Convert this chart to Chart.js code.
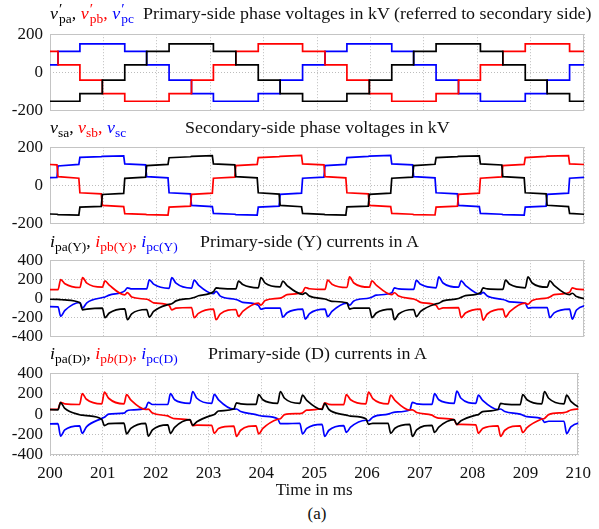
<!DOCTYPE html>
<html lang="en">
<head>
<meta charset="UTF-8" />
<title>Phase voltages and currents</title>
<script src="https://cdn.jsdelivr.net/npm/chart.js"></script>
<style>
  body {
    margin: 0;
    width: 599px;
    height: 529px;
    position: relative;
    overflow: hidden;
    background: #fff;
    font-family: "Liberation Serif", "Times New Roman", serif;
    color: #111;
  }
  canvas { position: absolute; left: 0; }
  .ttl {
    position: absolute;
    font-size: 16px;
    line-height: 16px;
    white-space: nowrap;
    transform: scaleX(1.12);
    transform-origin: left top;
  }
  .ttl sub { font-size: 12px; line-height: 1; vertical-align: -4px; }
  .ss { position: relative; display: inline-block; font-size: 12px; line-height: 12px; vertical-align: -4px; padding-left: 1px; }
  .ss .p { position: absolute; left: 1px; top: -9px; font-size: 14px; }
  .k { color: #000; }
  .r { color: #f00; }
  .b { color: #00f; }
  .cap { position: absolute; left: 267px; width: 100px; top: 506px; text-align: center; font-size: 17px; line-height: 16px; }
</style>
</head>
<body>

<canvas id="c1" width="599" height="111" style="top:17px"></canvas>
<canvas id="c2" width="599" height="111" style="top:130px"></canvas>
<canvas id="c3" width="599" height="111" style="top:243px"></canvas>
<canvas id="c4" width="599" height="145" style="top:356px"></canvas>

<!-- panel headings -->
<div class="ttl" style="left:50px;top:6px">
  <span class="k"><i>v</i><span class="ss"><span class="p">′</span>pa</span>,</span>
  <span class="r"><i>v</i><span class="ss"><span class="p">′</span>pb</span>,</span>
  <span class="b"><i>v</i><span class="ss"><span class="p">′</span>pc</span></span>
</div>
<div class="ttl" style="left:143px;top:6px">Primary-side phase voltages in kV (referred to secondary side)</div>

<div class="ttl" style="left:50px;top:120px">
  <span class="k"><i>v</i><sub>sa</sub>,</span>
  <span class="r"><i>v</i><sub>sb</sub>,</span>
  <span class="b"><i>v</i><sub>sc</sub></span>
</div>
<div class="ttl" style="left:185px;top:120px">Secondary-side phase voltages in kV</div>

<div class="ttl" style="left:50px;top:234px">
  <span class="k"><i>i</i><sub>pa(Y)</sub>,</span>
  <span class="r"><i>i</i><sub>pb(Y)</sub>,</span>
  <span class="b"><i>i</i><sub>pc(Y)</sub></span>
</div>
<div class="ttl" style="left:200px;top:234px">Primary-side (Y) currents in A</div>

<div class="ttl" style="left:50px;top:346px">
  <span class="k"><i>i</i><sub>pa(D)</sub>,</span>
  <span class="r"><i>i</i><sub>p<i>b</i>(D)</sub>,</span>
  <span class="b"><i>i</i><sub>pc(D)</sub></span>
</div>
<div class="ttl" style="left:208px;top:346px">Primary-side (D) currents in A</div>

<div class="cap">(a)</div>

<script>
  // switching instants (ms) of the 12-step waveforms, last entry closes the final step
  const stepTimes = [199.73, 200.15, 200.56, 200.98, 201.40, 201.81, 202.23, 202.65, 203.06,
    203.48, 203.90, 204.31, 204.73, 205.15, 205.56, 205.98, 206.40, 206.81, 207.23,
    207.65, 208.06, 208.48, 208.90, 209.31, 209.73, 210.15];

  // primary-side phase voltages (kV), one level per step
  const vpa = [-150, -150, -110, -40, 40, 110, 150, 150, 110, 40, -40, -110, -150, -150,
    -110, -40, 40, 110, 150, 150, 110, 40, -40, -110, -150, -150];
  const vpb = [110, 40, -40, -110, -150, -150, -110, -40, 40, 110, 150, 150, 110, 40,
    -40, -110, -150, -150, -110, -40, 40, 110, 150, 150, 110, 110];
  const vpc = [40, 110, 150, 150, 110, 40, -40, -110, -150, -150, -110, -40, 40, 110,
    150, 150, 110, 40, -40, -110, -150, -150, -110, -40, 40, 40];

  // secondary-side voltages: start and end of every step
  const secTimes = [199.73, 200.13, 200.15, 200.54, 200.56, 200.96, 200.98, 201.38,
    201.40, 201.79, 201.81, 202.21, 202.23, 202.63, 202.65, 203.04, 203.06, 203.46,
    203.48, 203.88, 203.90, 204.29, 204.31, 204.71, 204.73, 205.13, 205.15, 205.54,
    205.56, 205.96, 205.98, 206.38, 206.40, 206.79, 206.81, 207.21, 207.23, 207.63,
    207.65, 208.04, 208.06, 208.46, 208.48, 208.88, 208.90, 209.29, 209.31, 209.71,
    209.73, 210.13];
  const vsa = [-146, -150, -152, -155, -113, -109, -47, -41, 37, 44, 104, 110, 145, 150,
    152, 156, 113, 108, 46, 40, -38, -45, -104, -111, -146, -151, -152, -155, -112, -108,
    -46, -40, 38, 44, 104, 111, 146, 151, 152, 155, 113, 107, 46, 40, -38, -44, -103, -110,
    -146, -152];
  const vsb = [113, 108, 46, 38, -38, -44, -104, -110, -147, -151, -152, -155, -113, -108,
    -46, -40, 38, 44, 104, 110, 146, 151, 152, 157, 113, 108, 46, 40, -38, -44, -104, -110,
    -146, -150, -152, -154, -113, -108, -46, -40, 38, 45, 104, 110, 146, 152, 153, 156,
    113, 108];
  const vsc = [38, 42, 102, 110, 147, 151, 152, 155, 113, 108, 46, 40, -38, -44, -104, -110,
    -146, -150, -152, -155, -113, -108, -46, -40, 38, 44, 104, 110, 146, 152, 153, 157,
    113, 108, 46, 40, -38, -44, -104, -110, -146, -150, -152, -155, -113, -108, -46, -40,
    38, 44];

  // current samples: each step is read at switching, peak and mid-decay
  const iTimes = [199.73, 199.78, 199.86, 200.15, 200.20, 200.28, 200.56, 200.61, 200.69,
    200.98, 201.03, 201.11, 201.40, 201.45, 201.53, 201.81, 201.86, 201.94,
    202.23, 202.28, 202.36, 202.65, 202.70, 202.78, 203.06, 203.11, 203.19,
    203.48, 203.53, 203.61, 203.90, 203.95, 204.03, 204.31, 204.36, 204.44,
    204.73, 204.78, 204.86, 205.15, 205.20, 205.28, 205.56, 205.61, 205.69,
    205.98, 206.03, 206.11, 206.40, 206.45, 206.53, 206.81, 206.86, 206.94,
    207.23, 207.28, 207.36, 207.65, 207.70, 207.78, 208.06, 208.11, 208.19,
    208.48, 208.53, 208.61, 208.90, 208.95, 209.03, 209.31, 209.36, 209.44,
    209.73, 209.78, 209.86, 210.15];

  // Y-winding primary currents (A)
  const iaY = [40, 55, 0, -10, -12, -15, -45, -118, -110, -100, -201, -152,
    -109, -222, -160, -115, -195, -135, -60, -55, -25, 3, 10, 29,
    70, 112, 106, 100, 182, 145, 111, 219, 160, 121, 182, 135,
    44, 58, 25, -5, -15, -30, -46, -110, -100, -100, -200, -152,
    -112, -222, -162, -115, -190, -135, -55, -50, -25, 0, 12, 30,
    60, 110, 100, 95, 191, 148, 112, 225, 162, 118, 185, 138,
    40, 55, 20, -12];
  const ibY = [68, 110, 100, 92, 198, 155, 115, 219, 160, 118, 184, 140,
    38, 62, 15, -8, -18, -45, -72, -118, -100, -94, -201, -155,
    -112, -222, -160, -115, -186, -135, -48, -70, -20, 4, 15, 40,
    66, 115, 102, 95, 191, 150, 115, 225, 162, 118, 185, 140,
    40, 60, 25, -5, -15, -40, -70, -110, -98, -95, -200, -152,
    -110, -225, -162, -112, -194, -138, -48, -60, -20, 5, 15, 40,
    66, 110, 98, 90];
  const icY = [-110, -200, -85, -87, -186, -125, -42, -100, -45, 10, 16, 35,
    80, 112, 100, 100, 195, 150, 106, 219, 160, 108, 192, 140,
    50, 75, 25, -10, -20, -40, -70, -112, -100, -100, -195, -148,
    -110, -215, -158, -112, -190, -135, -48, -70, -25, 5, 15, 35,
    60, 110, 100, 95, 190, 148, 112, 225, 162, 118, 185, 138,
    45, 65, 25, -10, -18, -35, -50, -100, -95, -95, -200, -150,
    -110, -215, -120, -60];

  // delta-winding primary currents (A)
  const iaD = [100, 185, 50, 42, 112, 55, -6, -10, -15, -52, -112, -94,
    -88, -194, -140, -90, -215, -155, -106, -188, -130, -55, -110, -75,
    -12, -5, 30, 50, 109, 100, 95, 190, 140, 105, 221, 155,
    105, 185, 135, 45, 105, 45, -5, -10, -20, -45, -100, -90,
    -90, -188, -138, -100, -218, -155, -110, -180, -128, -55, -100, -65,
    -10, -5, 25, 45, 105, 98, 92, 191, 140, 100, 221, 155,
    100, 185, 125, 30];
  const ibD = [20, 30, 45, 48, 115, 100, 94, 200, 145, 100, 215, 155,
    100, 190, 138, 45, 48, 10, -18, -30, -45, -58, -112, -108,
    -110, -188, -140, -118, -218, -158, -115, -194, -140, -50, -45, -5,
    5, 10, 39, 55, 110, 95, 92, 191, 140, 100, 215, 152,
    100, 185, 135, 40, 42, 15, -10, -25, -40, -55, -103, -100,
    -105, -188, -140, -115, -218, -158, -115, -180, -132, -48, -42, -5,
    15, 20, 40, 55];
  const icD = [-100, -190, -100, -94, -215, -155, -115, -188, -125, -42, -30, 0,
    9, 30, 40, 58, 115, 94, 94, 200, 140, 105, 221, 155,
    105, 194, 140, 48, 50, 25, -5, -12, -20, -45, -94, -94,
    -90, -194, -140, -100, -218, -158, -112, -179, -128, -60, -65, -30,
    0, 8, 20, 40, 115, 100, 95, 200, 140, 105, 224, 155,
    105, 185, 135, 45, 50, 25, 0, -10, -25, -45, -80, -70,
    -70, -190, -125, -70];

  Chart.defaults.font.family = '"Liberation Serif", "Times New Roman", serif';
  Chart.defaults.font.size = 17;
  Chart.defaults.color = '#111';

  const pts = (xs, ys) => xs.map((x, i) => ({ x: x, y: ys[i] }));

  function trace(xs, ys, color, extra) {
    return Object.assign({
      data: pts(xs, ys),
      borderColor: color,
      borderWidth: 1.7,
      pointRadius: 0,
      fill: false
    }, extra || {});
  }

  // light grey box round each plot area
  const frame = {
    id: 'frame',
    beforeDatasetsDraw(chart) {
      const { ctx, chartArea: a } = chart;
      ctx.save();
      ctx.strokeStyle = '#c4c4c4';
      ctx.lineWidth = 1;
      ctx.strokeRect(Math.round(a.left) + 0.5, Math.round(a.top) + 0.5,
        Math.round(a.width) - 1, Math.round(a.height) - 1);
      ctx.restore();
    }
  };

  function panel(id, datasets, lim, step, bottom) {
    return new Chart(document.getElementById(id), {
      type: 'line',
      data: { datasets: datasets },
      options: {
        responsive: false,
        animation: false,
        devicePixelRatio: 1,
        layout: { padding: { top: 12, right: 15, bottom: bottom ? 0 : 12, left: 0 } },
        plugins: { legend: { display: false }, tooltip: { enabled: false } },
        scales: {
          x: {
            type: 'linear',
            min: 200,
            max: 210,
            afterFit: s => { s.height = bottom ? 46 : 0; },
            grid: { color: '#bdbdbd', drawTicks: false },
            border: { display: false, dash: [1, 2] },
            ticks: { display: bottom, stepSize: 1, padding: 8, maxRotation: 0, autoSkip: false },
            title: { display: bottom, text: 'Time in ms', padding: 0 }
          },
          y: {
            min: -lim,
            max: lim,
            afterFit: s => { s.width = 50; },
            grid: { color: '#bdbdbd', drawTicks: false },
            border: { display: false, dash: [1, 2] },
            ticks: { stepSize: step, padding: 7, autoSkip: false }
          }
        }
      },
      plugins: [frame]
    });
  }

  panel('c1', [
    trace(stepTimes, vpa, '#000', { stepped: 'before' }),
    trace(stepTimes, vpb, '#f00', { stepped: 'before' }),
    trace(stepTimes, vpc, '#00f', { stepped: 'before' })
  ], 200, 200, false);

  panel('c2', [
    trace(secTimes, vsa, '#000'),
    trace(secTimes, vsb, '#f00'),
    trace(secTimes, vsc, '#00f')
  ], 200, 200, false);

  const smooth = { cubicInterpolationMode: 'monotone' };

  panel('c3', [
    trace(iTimes, iaY, '#000', smooth),
    trace(iTimes, ibY, '#f00', smooth),
    trace(iTimes, icY, '#00f', smooth)
  ], 400, 200, false);

  panel('c4', [
    trace(iTimes, iaD, '#000', smooth),
    trace(iTimes, ibD, '#f00', smooth),
    trace(iTimes, icD, '#00f', smooth)
  ], 400, 200, true);
</script>
</body>
</html>
